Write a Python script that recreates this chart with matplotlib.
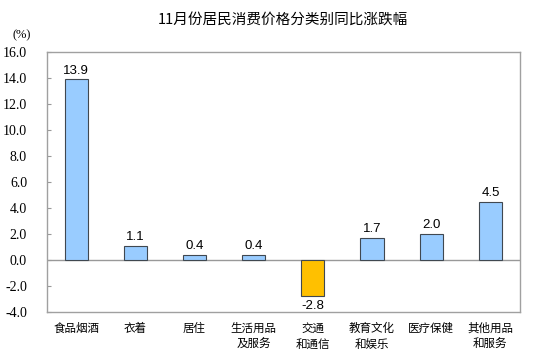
import matplotlib
matplotlib.use("Agg")
import matplotlib.pyplot as plt

categories = ["食品烟酒", "衣着", "居住", "生活用品\n及服务", "交通\n和通信", "教育文化\n和娱乐", "医疗保健", "其他用品\n和服务"]
values = [13.9, 1.1, 0.4, 0.4, -2.8, 1.7, 2.0, 4.5]
yticks = [-4.0, -2.0, 0.0, 2.0, 4.0, 6.0, 8.0, 10.0, 12.0, 14.0, 16.0]

plt.rcParams["font.family"] = ["Noto Sans CJK SC", "DejaVu Sans"]

fig = plt.figure(figsize=(5.49, 3.60), dpi=100)
ax = fig.add_axes([46.5 / 549, 1 - 312 / 360, (520 - 46.5) / 549, (312 - 52) / 360])

colors = ["#99CCFF" if v >= 0 else "#FFC000" for v in values]
x = list(range(len(categories)))
ax.bar(x, values, width=0.39, color=colors, edgecolor="#404850", linewidth=0.8, zorder=3)
ax.axhline(0, color="#999999", linewidth=1.0, zorder=2)

for xi, v in zip(x, values):
    off = 0.2 if v >= 0 else -0.25
    ax.text(xi, v + off, f"{v:.1f}", ha="center", va="bottom" if v >= 0 else "top",
            fontsize=9.5, family="Liberation Sans")

ax.set_xlim(-0.5, len(categories) - 0.5)
ax.set_ylim(-4, 16)
ax.set_yticks(yticks)
ax.set_yticklabels([f"{t:.1f}" for t in yticks], family="Liberation Serif", fontsize=10)
ax.set_xticks(x)
ax.set_xticklabels(categories, fontsize=8.3, linespacing=1.3)
ax.tick_params(axis="x", length=0, pad=7)
ax.tick_params(axis="y", direction="in", length=3, color="#999999", pad=14)
for s in ax.spines.values():
    s.set_color("#a0a0a0")
    s.set_linewidth(1.0)

fig.text(22 / 549, 1 - 35 / 360, "(%)", family="Liberation Serif", fontsize=9, ha="center", va="center")
fig.text(283 / 549, 1 - 20 / 360, "11月份居民消费价格分类别同比涨跌幅", fontsize=10.5, ha="center", va="center")

fig.savefig("out.png", dpi=100)
